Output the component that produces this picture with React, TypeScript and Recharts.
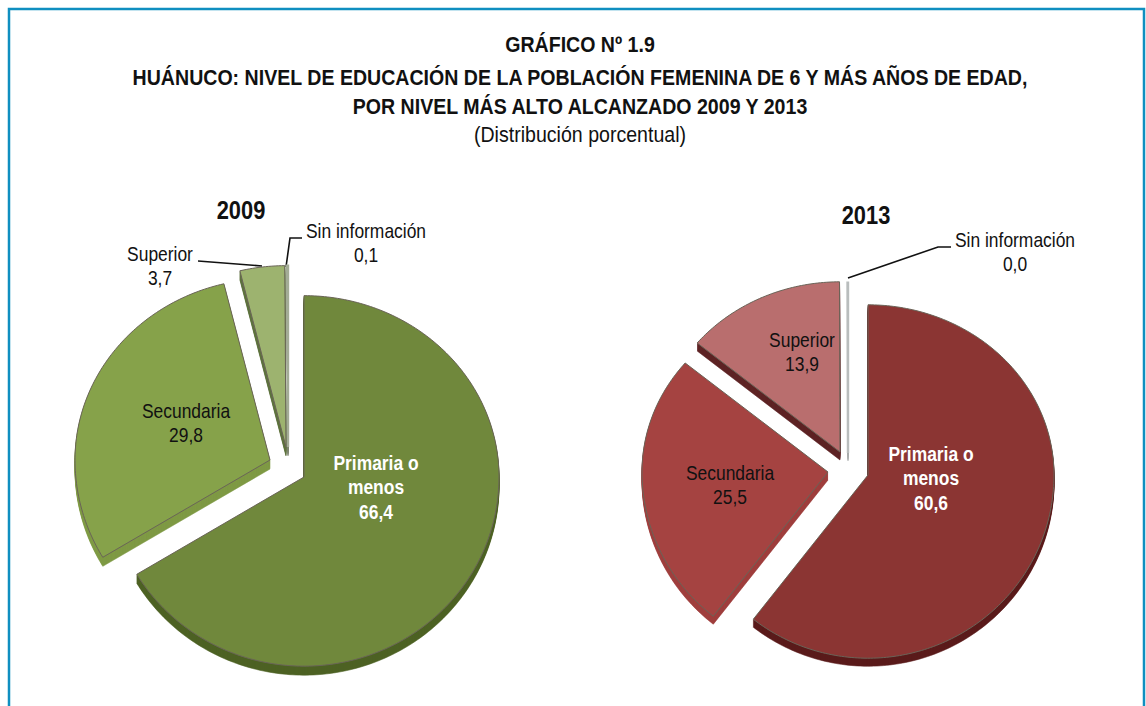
import { Pie, PieChart } from "recharts";

const categories = ["Primaria o menos", "Secundaria", "Superior", "Sin información"];
const values2009 = [66.4, 29.8, 3.7, 0.1];
// se lee 0,0 pero en el gráfico queda una astilla visible
const values2013 = [60.6, 25.5, 13.9, 0.04];
const titleLines = [
  "GRÁFICO Nº 1.9",
  "HUÁNUCO: NIVEL DE EDUCACIÓN DE LA POBLACIÓN FEMENINA DE 6 Y MÁS AÑOS DE EDAD,",
  "POR NIVEL MÁS ALTO ALCANZADO 2009 Y 2013",
];
const titleBaselines = [52, 85, 114];
const subtitle = "(Distribución porcentual)";

const colors2009 = ["#70883c", "#86a24a", "#9db36f", "#a3ac96"];
const sides2009 = ["#4d6224", "#7f9a45", "#5f7340", "#7c8470"];
const colors2013 = ["#8b3533", "#a54341", "#b96e6e", "#b9bdbd"];
const sides2013 = ["#5a1b1b", "#a03f3e", "#5e2425", "#a9adad"];

// desplazamiento de cada porción respecto del centro
const offsets2009 = [[0, 0], [-34, -17], [-18, -30], [-16, -30]];
const offsets2013 = [[0, 0], [-40, -3], [-28, -23], [-20, -22]];

const font = "'Liberation Sans', Arial, sans-serif";

const toData = (values: number[]) => categories.map((name, i) => ({ name, value: values[i] }));

function slicePath(p: any, ox: number, oy: number, topK: number, botK: number) {
  const steps = Math.max(1, Math.ceil(Math.abs(p.endAngle - p.startAngle)));
  const pts = [`M${p.cx + ox},${p.cy + oy}`];
  for (let i = 0; i <= steps; i++) {
    const a = ((p.startAngle + ((p.endAngle - p.startAngle) * i) / steps) * Math.PI) / 180;
    const s = Math.sin(a);
    const x = p.cx + ox + p.outerRadius * Math.cos(a);
    const y = p.cy + oy - p.outerRadius * s * (s > 0 ? topK : botK);
    pts.push(`L${x.toFixed(2)},${y.toFixed(2)}`);
  }
  return pts.join(" ") + " Z";
}

const makeShape =
  (colors: string[], sides: string[], offsets: number[][], topK: number, botK: number, depth: number) =>
  (p: any) => {
    const i = categories.indexOf(p.name);
    const [ox, oy] = offsets[i];
    const layers = Array.from({ length: depth }, (_, d) => depth - d);
    return (
      <g>
        {layers.map((d) => (
          <path key={d} d={slicePath(p, ox, oy + d, topK, botK)} fill={sides[i]} stroke={sides[i]} strokeWidth={0.6} />
        ))}
        <path
          d={slicePath(p, ox, oy, topK, botK)}
          fill={colors[i]}
          stroke={i === 3 ? colors[i] : "#6a6458"}
          strokeWidth={i === 3 ? 2.4 : 1}
        />
      </g>
    );
  };

type LabelSpot = { x: number; y: number; lines: string[]; white?: boolean };
const spots2009: LabelSpot[] = [
  { x: 376, y: 470, lines: ["Primaria o", "menos"], white: true },
  { x: 186, y: 418, lines: ["Secundaria"] },
  { x: 160, y: 261, lines: ["Superior"] },
  { x: 366, y: 238, lines: ["Sin información"] },
];
const spots2013: LabelSpot[] = [
  { x: 931, y: 461, lines: ["Primaria o", "menos"], white: true },
  { x: 730, y: 480, lines: ["Secundaria"] },
  { x: 802, y: 347, lines: ["Superior"] },
  { x: 1015, y: 247, lines: ["Sin información"] },
];

const narrow = (x: number, k: number) => `translate(${x},0) scale(${k},1)`;

const makeLabel = (spots: LabelSpot[]) => (p: any) => {
  const i = categories.indexOf(p.name);
  const s = spots[i];
  const lines = [...s.lines, p.value.toFixed(1).replace(".", ",")];
  return (
    <text
      key={p.name}
      transform={narrow(s.x, 0.85)}
      y={s.y}
      textAnchor="middle"
      fontFamily={font}
      fontSize={20.5}
      fontWeight={s.white ? 700 : 400}
      fill={s.white ? "#ffffff" : "#111111"}
    >
      {lines.map((line, k) => (
        <tspan key={k} x={0} dy={k === 0 ? 0 : 24.3}>
          {line}
        </tspan>
      ))}
    </text>
  );
};

export default function App() {
  return (
    <div style={{ position: "absolute", left: 0, top: 0, width: 1146, height: 706, background: "#fff", overflow: "hidden" }}>
      <PieChart width={1146} height={706} margin={{ top: 0, right: 0, bottom: 0, left: 0 }}>
        <path d="M9,706 V9 H1144 V706" fill="none" stroke="#0f8fc0" strokeWidth={2.5} />
        <text transform={narrow(580, 0.89)} textAnchor="middle" fontFamily={font} fontSize={22} fontWeight={700} fill="#111">
          {titleLines.map((line, i) => (
            <tspan key={i} x={0} y={titleBaselines[i]}>
              {line}
            </tspan>
          ))}
        </text>
        <text transform={narrow(580, 0.89)} y={142} textAnchor="middle" fontFamily={font} fontSize={22} fill="#111">
          {subtitle}
        </text>
        <text transform={narrow(241, 0.84)} y={219} textAnchor="middle" fontFamily={font} fontSize={26} fontWeight={700} fill="#111">
          2009
        </text>
        <text transform={narrow(866, 0.84)} y={224} textAnchor="middle" fontFamily={font} fontSize={26} fontWeight={700} fill="#111">
          2013
        </text>
        <Pie
          data={toData(values2009)}
          dataKey="value"
          nameKey="name"
          cx={304}
          cy={477}
          innerRadius={0}
          outerRadius={195}
          startAngle={90}
          endAngle={-270}
          stroke="none"
          isAnimationActive={false}
          shape={makeShape(colors2009, sides2009, offsets2009, 0.93, 0.97, 9)}
          label={makeLabel(spots2009)}
          labelLine={false}
        />
        <Pie
          data={toData(values2013)}
          dataKey="value"
          nameKey="name"
          cx={868}
          cy={475}
          innerRadius={0}
          outerRadius={186}
          startAngle={90}
          endAngle={-270}
          stroke="none"
          isAnimationActive={false}
          shape={makeShape(colors2013, sides2013, offsets2013, 0.915, 0.985, 8)}
          label={makeLabel(spots2013)}
          labelLine={false}
        />
        <g fill="none" stroke="#111" strokeWidth={1.6}>
          <path d="M198,261 L262,266" />
          <path d="M286,267 L290,238 H302" />
          <path d="M848,278 L938,247 H951" />
        </g>
      </PieChart>
    </div>
  );
}
